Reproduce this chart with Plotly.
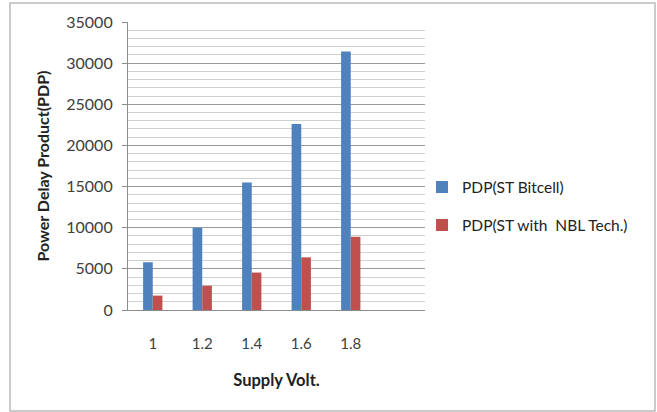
import plotly.graph_objects as go

categories = ["1", "1.2", "1.4", "1.6", "1.8"]
pdp_st_bitcell = [5800, 10000, 15500, 22600, 31400]
pdp_st_nbl = [1750, 2950, 4550, 6400, 8900]
series_names = ["PDP(ST Bitcell)", "PDP(ST with  NBL Tech.)"]
y_ticks = [0, 5000, 10000, 15000, 20000, 25000, 30000, 35000]

font_family = "Lato, Open Sans, sans-serif"

fig = go.Figure()
fig.add_trace(go.Bar(x=categories, y=pdp_st_bitcell, name=series_names[0],
                     marker=dict(color="#4F81BD", line=dict(width=0)), legendgroup="a"))
fig.add_trace(go.Bar(x=categories, y=pdp_st_nbl, name=series_names[1],
                     marker=dict(color="#C0504D", line=dict(width=0)), legendgroup="b"))

fig.update_layout(
    width=657, height=412,
    margin=dict(l=128, r=232, t=22, b=102, autoexpand=False),
    paper_bgcolor="white", plot_bgcolor="white",
    barmode="group", bargap=0.61, bargroupgap=0,
    font=dict(family=font_family, size=13, color="#404040"),
    showlegend=True,
    legend=dict(x=0.99, xanchor="left", xref="paper", y=0.36, yanchor="middle",
                font=dict(size=15.5, color="#222"), tracegroupgap=15,
                itemwidth=30, bgcolor="rgba(0,0,0,0)"),
    shapes=[dict(type="rect", xref="paper", yref="paper",
                 x0=-118/297, x1=(655-128)/297, y0=-(411-310)/288, y1=(310-3)/288,
                 line=dict(color="#BBBBBB", width=1.5), fillcolor="rgba(0,0,0,0)", layer="below")],
)

fig.update_xaxes(
    type="category", categoryarray=categories, range=[-0.5, 5.5],
    showline=True, linecolor="#8C8C8C", linewidth=1.2,
    showgrid=False, ticks="", ticklabelstandoff=20, automargin=False,
    tickfont=dict(size=15, color="#404040"),
    title=dict(text="<b>Supply Volt.</b>", font=dict(size=16.5, color="#222"), standoff=23),
)
fig.update_yaxes(
    range=[0, 35000], tickvals=y_ticks, ticktext=[str(v) for v in y_ticks],
    showline=True, linecolor="#8C8C8C", linewidth=1.2, automargin=False,
    ticks="outside", ticklen=5, tickcolor="#8C8C8C",
    showgrid=True, gridcolor="#9A9A9A", gridwidth=1,
    minor=dict(dtick=1000, showgrid=True, gridcolor="#D0D0D0", gridwidth=1, ticks=""),
    zeroline=False, ticklabelstandoff=6,
    tickfont=dict(size=16, color="#404040"),
    title=dict(text="<b>Power Delay Product(PDP)</b>", font=dict(size=16, color="#222"), standoff=12),
)

fig.write_html("out.html", post_script="document.body.style.margin='0';",
               config={"displayModeBar": False})
